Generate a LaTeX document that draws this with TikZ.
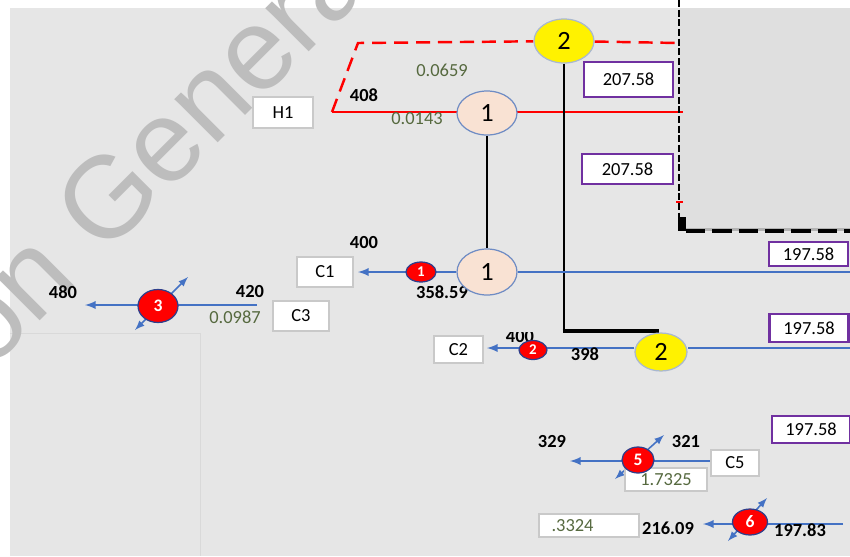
\documentclass[tikz,border=0pt]{standalone}
\usepackage{fontspec}
\setmainfont{Carlito}
\newfontfamily\markfont{Liberation Sans}
\usetikzlibrary{shapes.geometric, arrows, positioning, backgrounds, calc}
\pgfdeclarelayer{back}
\pgfsetlayers{back,background,main}
\definecolor{sheet}{HTML}{E6E6E6}
\definecolor{panel}{HTML}{DFDFDF}
\definecolor{boxline}{HTML}{C9C9C9}
\definecolor{flowblue}{HTML}{4472C4}
\definecolor{edgeblue}{HTML}{6F8CC4}
\definecolor{edgepale}{HTML}{A9B8D0}
\definecolor{peach}{HTML}{F9E2D3}
\definecolor{valpurple}{HTML}{7030A0}
\definecolor{coefgreen}{HTML}{56693F}
\definecolor{junctred}{HTML}{FF0000}
\definecolor{junctedge}{HTML}{2E3F8C}
\definecolor{markgray}{HTML}{BDBDBD}

\begin{document}
\begin{tikzpicture}[
                x=0.02cm, y=-0.02cm,
                tag/.style={rectangle, draw=boxline, line width=0.9pt, fill=white, inner sep=0pt, font=\fontsize{10.5}{12}\selectfont},
                val/.style={rectangle, draw=valpurple, line width=1.3pt, fill=white, inner sep=0pt, font=\fontsize{10.5}{12}\selectfont},
                unit/.style={ellipse, draw=edgeblue, line width=0.7pt, inner sep=0pt, font=\fontsize{15}{16}\selectfont},
                junct/.style={ellipse, draw=junctedge, line width=0.7pt, fill=junctred, inner sep=0pt, text=white, font=\fontsize{8.5}{9}\selectfont\bfseries},
                num/.style={inner sep=0pt, font=\fontsize{10.5}{12}\selectfont\bfseries},
                coef/.style={inner sep=0pt, text=coefgreen, font=\fontsize{10.5}{12}\selectfont},
                flow/.style={draw=flowblue, line width=1.1pt},
                arrow/.style={flow, ->, >=latex},
                two_way/.style={flow, line width=0.9pt, <->, >=latex},
                hot/.style={draw=red, line width=1.4pt},
                hot_dashed/.style={hot, dash pattern=on 8pt off 4.5pt},
                link/.style={draw=black, line width=1.5pt}
            ]%
            \clip (0,0) rectangle (850,556);
            %
            % Hoja y marca de agua
            \begin{pgfonlayer}{back}
                \fill[white] (0,0) rectangle (850,556);
                \fill[sheet] (10,8) rectangle (850,556);
                \fill[panel] (680,8) rectangle (850,230);
                \draw[black!15, line width=0.4pt] (10,333) -- (200,333) -- (200,556);
                \node[rotate=45, anchor=base west, inner sep=0pt, text=markgray, font=\markfont\fontsize{66}{66}\selectfont] (mark) at (-11,372) {on Genera};
            \end{pgfonlayer}
            %
            % Puntos libres
            \coordinate (h1l) at (332,112);
            \coordinate (h1r) at (683,112);
            \coordinate (h1k) at (358,43);
            \coordinate (h1e) at (679,43);
            \coordinate (pan_top) at (679,0);
            \coordinate (pan_low) at (679,217);
            \coordinate (pan_knee) at (686,231);
            \coordinate (pan_end) at (850,231);
            \coordinate (tick_a) at (676,202);
            \coordinate (tick_b) at (683,202);
            \coordinate (bend) at (564,331);
            \coordinate (bend_end) at (659,331);
            \coordinate (row1_r) at (850,272);
            \coordinate (row1_tip) at (358,272);
            \coordinate (row2_r) at (850,348);
            \coordinate (row2_tip) at (487,348);
            \coordinate (row3_r) at (257,305);
            \coordinate (row3_tip) at (85,305);
            \coordinate (row5_tip) at (570,461);
            \coordinate (row6_r) at (843,524);
            \coordinate (row6_tip) at (703,524);
            \coordinate (d3a) at (135,330);
            \coordinate (d3b) at (188,277);
            \coordinate (d5a) at (615,479);
            \coordinate (d5b) at (664,435);
            \coordinate (d6a) at (728,541);
            \coordinate (d6b) at (767,498);
            %
            % Cajas de texto
            \node[tag, minimum width=1.2cm, minimum height=0.62cm] (h1) at (283,112.5) {H1};
            \node[tag, minimum width=1.12cm, minimum height=0.6cm] (c1) at (325,272) {C1};
            \node[tag, minimum width=1.12cm, minimum height=0.6cm] (c3) at (301,316) {C3};
            \node[tag, minimum width=0.98cm, minimum height=0.54cm] (c2) at (458.5,349.5) {C2};
            \node[tag, minimum width=0.96cm, minimum height=0.52cm] (c5) at (735,463) {C5};
            \node[tag, minimum width=1.64cm, minimum height=0.46cm, text=coefgreen] (k5) at (666,479.5) {1.7325};
            \node[tag, minimum height=0.46cm, text width=1.5cm, inner xsep=0.25cm, align=left, text=coefgreen] (k6) at (589,525.5) {.3324};
            %
            % Valores (morado)
            \node[val, minimum width=1.78cm, minimum height=0.7cm] (v1) at (628.5,79.5) {207.58};
            \node[val, minimum width=1.82cm, minimum height=0.6cm] (v2) at (627.5,169) {207.58};
            \node[val, minimum width=1.58cm, minimum height=0.48cm] (v3) at (808.5,254) {197.58};
            \node[val, minimum width=1.58cm, minimum height=0.56cm] (v4) at (809,328) {197.58};
            \node[val, minimum width=1.56cm, minimum height=0.54cm] (v5) at (811,429.5) {197.58};
            %
            % Etiquetas
            \node[num] (t408) at (364,95) {408};
            \node[num] (t400a) at (364,243) {400};
            \node[num] (t358) at (442,292) {358.59};
            \node[num] (t480) at (63,292) {480};
            \node[num] (t420) at (250,292) {420};
            \node[num] (t398) at (585,354) {398};
            \node[num] (t329) at (552,442) {329};
            \node[num] (t321) at (686,442) {321};
            \node[num] (t216) at (668,528) {216.09};
            \node[num] (t197) at (800,530) {197.83};
            \node[coef] (k1) at (442,70) {0.0659};
            \node[coef] (k2) at (417,119) {0.0143};
            \node[coef] (k3) at (235,317) {0.0987};
            %
            % Equipos
            \node[unit, fill=peach, minimum width=1.2cm, minimum height=0.88cm] (e1t) at (487,113) {1};
            \node[unit, fill=peach, minimum width=1.2cm, minimum height=0.92cm] (e1b) at (487,272) {1};
            \node[unit, fill=yellow, draw=edgepale, minimum width=1.2cm, minimum height=0.88cm] (e2t) at (564,41) {2};
            \begin{scope}
                \clip (490,332) rectangle (700,400);
                \node[num] (t400b) at (520,337) {400};
                \node[unit, fill=yellow, draw=edgepale, minimum width=1.04cm, minimum height=0.76cm] (e2b) at (661,352) {2};
            \end{scope}
            %
            % Nudos
            \node[junct, minimum width=0.6cm, minimum height=0.4cm] (j1) at (421,272) {1};
            \node[junct, minimum width=0.56cm, minimum height=0.38cm] (j2) at (533,350) {2};
            \node[junct, minimum width=0.8cm, minimum height=0.66cm, font=\fontsize{10}{10}\selectfont\bfseries] (j3) at (158,306) {3};
            \node[junct, minimum width=0.64cm, minimum height=0.52cm, font=\fontsize{10}{10}\selectfont\bfseries] (j5) at (638,460) {5};
            \node[junct, minimum width=0.7cm, minimum height=0.52cm, font=\fontsize{10}{10}\selectfont\bfseries] (j6) at (750,522) {6};
            %
            % Conexiones
            \begin{scope}[on background layer]
                \draw[hot] (h1l) -- (h1r);
                \draw[hot_dashed] (h1l) -- (h1k) -- (e2t);
                \draw[hot_dashed] (e2t) -- (h1e);
                \draw[black, line width=1.4pt, dash pattern=on 4pt off 1.5pt] (pan_top) -- (pan_low);
                \draw[hot, line width=1pt] (tick_a) -- (tick_b);
                \fill[black] (678,217) rectangle (pan_knee);
                \draw[black!30, line width=1.8pt] ([yshift=1] pan_knee) -- ([yshift=1] pan_end);
                \draw[black, line width=2.2pt, dash pattern=on 11pt off 4pt] (pan_knee) -- (pan_end);
                %
                \draw[link] (e1t) -- (e1b);
                \draw[link] (e2t.south) -- (bend);
                \draw[link, line width=2.8pt] ([xshift=-0.8] bend) -- (bend_end);
                %
                \draw[flow] (row1_r) -- (row1_r -| e1b.east);
                \draw[arrow] (row1_r -| e1b.west) -- (row1_tip);
                \draw[flow] (row2_r) -- (row2_r -| e2b.east);
                \draw[arrow] (row2_r -| e2b.west) -- (row2_tip);
                \draw[arrow] (row3_r) -- (row3_tip);
                \draw[arrow] (c5.west |- row5_tip) -- (row5_tip);
                \draw[arrow] (row6_r) -- (row6_tip);
                \draw[two_way] (d3a) -- (d3b);
                \draw[two_way] (d5a) -- (d5b);
                \draw[two_way] (d6a) -- (d6b);
            \end{scope}
        \end{tikzpicture}
\end{document}
